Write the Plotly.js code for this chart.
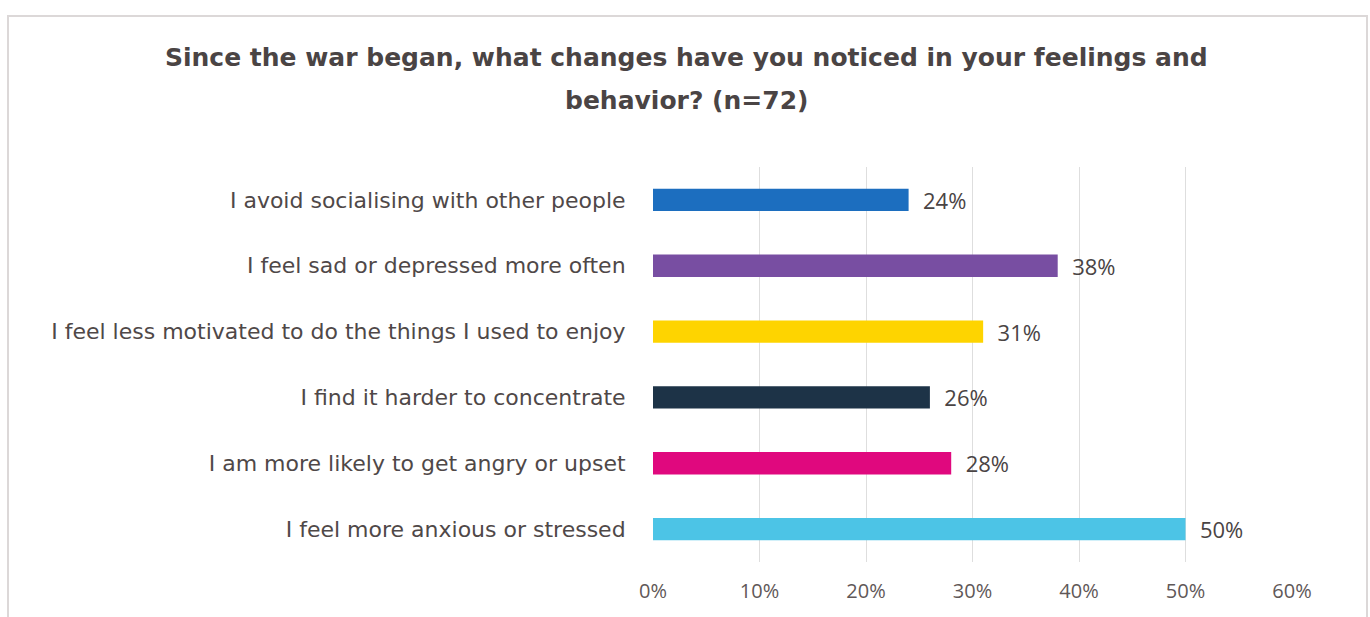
<!DOCTYPE html>
<html>
<head>
<meta charset="utf-8">
<script src="https://cdn.plot.ly/plotly-3.0.1.min.js"></script>
<style>
  html, body { margin: 0; padding: 0; background: #ffffff; overflow: hidden; }
  #frame { position: absolute; left: 7px; top: 15px; width: 1357px; height: 620px; border: 2px solid #dcd8d8; background: #fff; }
  #chart { width: 1357px; height: 620px; }
</style>
</head>
<body>
<div id="frame"><div id="chart"></div></div>
<script>
const categories = [
  "I avoid socialising with other people",
  "I feel sad or depressed more often",
  "I feel less motivated to do the things I used to enjoy",
  "I find it harder to concentrate",
  "I am more likely to get angry or upset",
  "I feel more anxious or stressed"
];
const values = [24, 38, 31, 26, 28, 50];
const barColors = ["#1c6ebf", "#784ea2", "#fed400", "#1d3347", "#e0087e", "#4cc4e6"];
const tickValues = [0, 10, 20, 30, 40, 50, 60];
const tickLabels = ["0%", "10%", "20%", "30%", "40%", "50%", "60%"];
const titleLine1 = "Since the war began, what changes have you noticed in your feelings and";
const titleLine2 = "behavior? (n=72)";

const W = 1357, H = 620;
const ML = 644, MR = 74, MT = 150, MB = 75;

const trace = {
  type: "bar",
  orientation: "h",
  y: categories,
  x: values,
  marker: { color: barColors },
  width: 0.34,
  text: values.map(v => "\u00a0\u00a0" + v + "%"),
  texttemplate: "%{text}",
  textposition: "outside",
  constraintext: "none",
  outsidetextfont: { family: "Open Sans", size: 22, color: "#4a4444" },
  cliponaxis: false,
  hoverinfo: "skip"
};

const titleX = (677 - ML) / (W - ML - MR);
const ph = H - MT - MB;

const layout = {
  width: W, height: H,
  paper_bgcolor: "#ffffff",
  plot_bgcolor: "#ffffff",
  margin: { l: ML, r: MR, t: MT, b: MB },
  showlegend: false,
  font: { family: "DejaVu Sans", color: "#4f4848" },
  xaxis: {
    range: [0, 60],
    tickvals: tickValues,
    ticktext: tickLabels,
    showgrid: true,
    gridcolor: "#dedede",
    gridwidth: 1,
    zeroline: false,
    showline: false,
    ticks: "outside",
    ticklen: 11,
    tickcolor: "rgba(0,0,0,0)",
    tickfont: { family: "Open Sans", size: 20, color: "#5f5858" },
    fixedrange: true
  },
  yaxis: {
    categoryorder: "array",
    categoryarray: categories.slice().reverse(),
    autorange: false,
    range: [-0.5, 5.5],
    showgrid: false,
    zeroline: false,
    showline: false,
    ticks: "outside",
    ticklen: 22,
    tickcolor: "rgba(0,0,0,0)",
    tickfont: { family: "DejaVu Sans", size: 22, color: "#4f4848" },
    fixedrange: true
  },
  annotations: [
    { text: "<b>" + titleLine1 + "</b>", xref: "paper", yref: "paper",
      x: titleX, xanchor: "center",
      y: 1 + (MT - 40) / ph, yanchor: "middle",
      showarrow: false, font: { family: "DejaVu Sans", size: 25, color: "#4a4444" } },
    { text: "<b>" + titleLine2 + "</b>", xref: "paper", yref: "paper",
      x: titleX, xanchor: "center",
      y: 1 + (MT - 83) / ph, yanchor: "middle",
      showarrow: false, font: { family: "DejaVu Sans", size: 25, color: "#4a4444" } }
  ]
};

Plotly.newPlot("chart", [trace], layout, { displayModeBar: false, staticPlot: true });
</script>
</body>
</html>
